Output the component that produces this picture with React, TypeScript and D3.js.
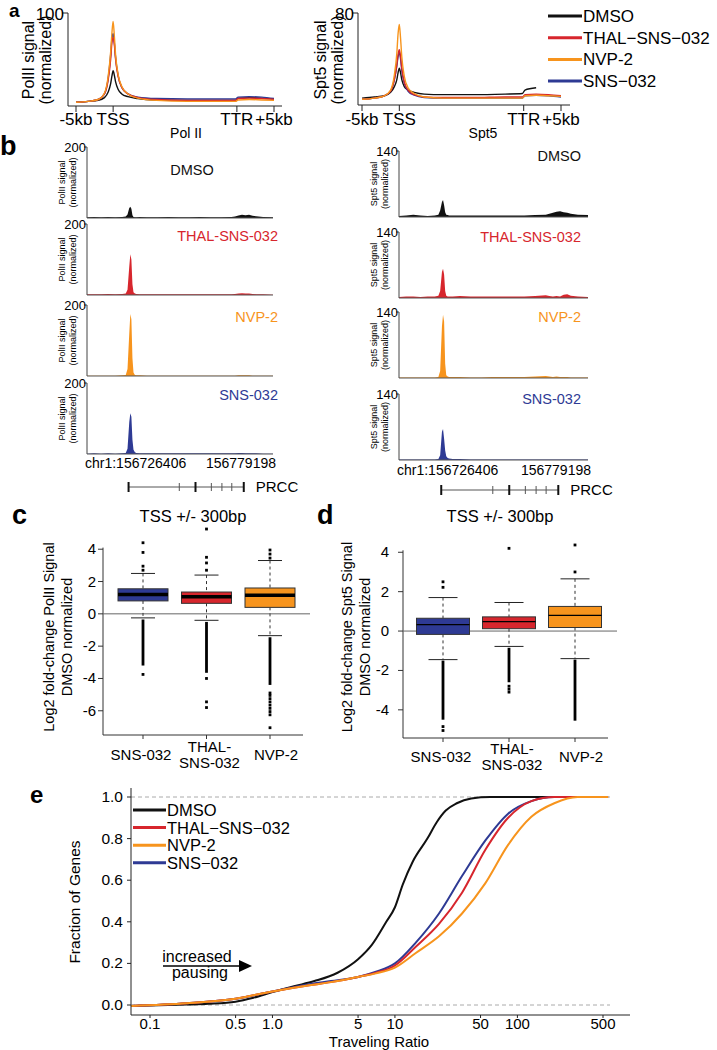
import React from 'react';
import * as d3 from 'd3';

const FONT = '"Liberation Sans", Arial, Helvetica, sans-serif';
const BLACK = '#111111';
const RED = '#d7262d';
const ORANGE = '#f7941d';
const BLUE = '#2e3a94';

// series shared by a, b and e
const legendNames = ['DMSO', 'THAL\u2212SNS\u2212032', 'NVP-2', 'SNS\u2212032'];
const trackNames = ['DMSO', 'THAL-SNS-032', 'NVP-2', 'SNS-032'];
const seriesColors = [BLACK, RED, ORANGE, BLUE];

// ---- a: metagene profiles (bins: 0 = -5kb, 30 = TSS, 130 = TTR, 160 = +5kb)
const metaBins = [0, 10, 18, 23, 26, 28, 29, 30, 31, 32, 34, 37, 42, 50, 65, 90, 115, 129, 131, 140, 150, 160];
const metaTickBins = [0, 30, 130, 160];
const metaTickLabels = ['-5kb', 'TSS', 'TTR', '+5kb'];

const polDmso = [4, 5, 6, 9, 15, 24, 32, 38, 33, 26, 18, 13, 10, 8, 6.5, 6, 6, 6, 8.5, 9, 8.5, 7.5];
const polThal = [4, 5, 7, 13, 28, 50, 68, 74, 66, 50, 32, 20, 13, 9, 7, 6, 6, 6, 8, 8.5, 8, 7];
const polNvp = [4, 5, 7, 14, 32, 58, 78, 91, 75, 55, 34, 21, 13, 8.5, 6, 5, 5, 5, 6.5, 7, 6.5, 6];
const polSns = [4, 5, 7, 13, 30, 55, 72, 78, 68, 52, 33, 20, 13, 9.5, 8, 7.5, 7.5, 7.5, 9.5, 10, 9.5, 8];

const sptDmso = [6, 7, 8, 11, 16, 22, 28, 32, 28, 22, 16, 13, 11, 9.5, 9, 9, 9.5, 10, 13, 15, null, null];
const sptThal = [5, 6, 8, 12, 22, 35, 44, 48, 42, 32, 20, 13, 9, 7, 6.5, 6.5, 7, 7, 9, 9.5, 9, 8];
const sptNvp = [5, 6, 8, 13, 26, 45, 62, 70, 58, 42, 25, 15, 10, 7, 6, 6, 6, 6, 8, 8.5, 8, 7.5];
const sptSns = [5, 6, 8, 12, 22, 34, 42, 46, 40, 30, 19, 12, 8.5, 6.5, 6, 6, 6, 6, 8, 8.5, 8, 7];

// ---- b: genome browser tracks (kb from chr1:156726406)
const trackKb = [0, 2, 4, 6, 8, 10, 11, 11.5, 12, 12.3, 12.6, 12.9, 13.2, 13.6, 14, 15, 17, 20, 23, 26, 29, 32, 35, 38, 41, 42, 43, 44, 45, 46, 47, 48, 50, 52.8];

const polTrackDmso = [2, 3, 2, 3, 2, 3, 4, 10, 28, 32, 26, 8, 3, 2, 2, 3, 2, 2, 3, 2, 2, 3, 2, 2, 3, 4, 7, 9, 8, 9, 6, 5, 3, 2];
const polTrackThal = [2, 2, 2, 3, 2, 3, 4, 15, 80, 115, 100, 30, 8, 4, 3, 2, 2, 2, 2, 2, 2, 2, 2, 2, 2, 3, 4, 5, 4, 4, 3, 2, 2, 1];
const polTrackNvp = [1, 1, 1, 1, 1, 2, 3, 20, 120, 175, 160, 50, 10, 3, 2, 2, 1, 1, 1, 1, 1, 1, 1, 1, 1, 1, 2, 2, 2, 2, 1, 1, 1, 1];
const polTrackSns = [1, 2, 1, 2, 1, 2, 3, 15, 90, 115, 105, 40, 12, 5, 3, 2, 2, 2, 2, 2, 2, 2, 2, 2, 2, 2, 3, 3, 2, 2, 2, 2, 1, 1];

const sptTrackDmso = [2, 3, 5, 3, 2, 3, 5, 14, 32, 36, 25, 10, 5, 4, 3, 3, 3, 3, 3, 3, 3, 3, 3, 4, 5, 7, 9, 11, 12, 10, 9, 7, 5, 4];
const sptTrackThal = [2, 3, 3, 2, 3, 3, 5, 15, 55, 62, 50, 15, 5, 3, 3, 3, 4, 3, 3, 3, 3, 3, 3, 4, 6, 4, 3, 4, 3, 7, 8, 5, 3, 2];
const sptTrackNvp = [1, 1, 1, 1, 1, 1, 2, 15, 110, 134, 120, 30, 6, 3, 2, 2, 2, 1, 1, 2, 2, 2, 2, 3, 4, 3, 2, 3, 2, 2, 2, 1, 1, 1];
const sptTrackSns = [1, 1, 1, 1, 1, 1, 2, 10, 60, 66, 45, 20, 8, 4, 3, 2, 2, 1, 1, 1, 1, 1, 1, 1, 1, 1, 1, 1, 1, 1, 1, 1, 1, 1];

const exonKb = [11.8, 26.2, 30.8, 35.3, 38.3, 41.1, 44.5];
const exonThick = [true, false, true, false, false, false, true];

// ---- c / d: boxplots
const boxNames = ['SNS-032', 'THAL-SNS-032', 'NVP-2'];
const boxColors = [BLUE, RED, ORANGE];
const boxTicks = [4, 2, 0, -2, -4, -6];

const polBox = [
  { q1: 0.8, med: 1.2, q3: 1.55, lo: -0.25, hi: 2.5 },
  { q1: 0.65, med: 1.05, q3: 1.35, lo: -0.4, hi: 2.4 },
  { q1: 0.4, med: 1.15, q3: 1.6, lo: -1.35, hi: 3.3 },
];
const polOutliers = [
  [4.4, 3.8, 2.95, 2.7, -3.75],
  [5.25, 3.5, 3.15, 2.7, -4.0, -5.45, -5.8],
  [3.95, 3.7, 3.45, -4.9, -5.05, -5.25, -5.45, -5.65, -5.85, -6.05, -6.25, -7.05],
];
const polRuns = [[[-0.35, -3.2]], [[-0.5, -3.65]], [[-1.45, -4.4]]];

const sptBox = [
  { q1: -0.17, med: 0.33, q3: 0.65, lo: -1.45, hi: 1.7 },
  { q1: 0.12, med: 0.48, q3: 0.72, lo: -0.78, hi: 1.45 },
  { q1: 0.18, med: 0.8, q3: 1.25, lo: -1.4, hi: 2.65 },
];
const sptOutliers = [
  [2.5, 2.22, -4.85, -5.05],
  [4.2, -2.8, -2.95, -3.1],
  [4.37, 3.0],
];
const sptRuns = [[[-1.5, -4.5]], [[1.6, 3.0], [-0.85, -2.6]], [[-1.45, -4.55]]];

// ---- e: cumulative distribution of traveling ratio
const cdfDmso = [[0.07, -0.005], [0.2, 0.002], [0.3, 0.006], [0.5, 0.016], [0.7, 0.035], [1, 0.062], [1.5, 0.09], [2.2, 0.115], [3.4, 0.155], [5, 0.22], [6.5, 0.29], [8.5, 0.4], [10, 0.47], [11.6, 0.58], [14, 0.69], [18.4, 0.8], [22, 0.88], [26, 0.935], [32, 0.97], [42, 0.993], [60, 1], [550, 1]];
const cdfThal = [[0.07, -0.005], [0.2, 0.008], [0.5, 0.03], [1, 0.065], [2, 0.095], [3, 0.11], [5, 0.135], [7, 0.155], [10, 0.19], [14.8, 0.28], [22.9, 0.39], [35.3, 0.54], [54.6, 0.745], [84, 0.9], [130, 0.98], [200, 1], [550, 1]];
const cdfNvp = [[0.07, -0.005], [0.2, 0.008], [0.5, 0.03], [1, 0.065], [2, 0.095], [3, 0.11], [5, 0.135], [7, 0.152], [10, 0.18], [14.8, 0.25], [22.9, 0.33], [35.3, 0.44], [54.6, 0.585], [84, 0.77], [130, 0.905], [200, 0.97], [310, 1], [550, 1]];
const cdfSns = [[0.07, -0.005], [0.2, 0.008], [0.5, 0.03], [1, 0.065], [2, 0.1], [3, 0.115], [5, 0.135], [7, 0.16], [10, 0.2], [14.8, 0.3], [22.9, 0.44], [35.3, 0.62], [54.6, 0.79], [84, 0.92], [130, 0.98], [200, 1], [550, 1]];
const cdfTicks = [0.1, 0.5, 1, 5, 10, 50, 100, 500];
const cdfTickLabels = ['0.1', '0.5', '1.0', '5', '10', '50', '100', '500'];
const fracTicks = [0, 0.2, 0.4, 0.6, 0.8, 1];

const AX = '#222';

function MetaPanel({ xr, axisX, yr, yMax, data, title, titleX, yLabel, yLabelX }: any) {
  const x = d3.scaleLinear().domain([0, 160]).range(xr);
  const y = d3.scaleLinear().domain([0, yMax]).range(yr);
  const line = d3
    .line<[number, number | null]>()
    .defined((d) => d[1] != null)
    .x((d) => x(d[0]))
    .y((d) => y(d[1] as number))
    .curve(d3.curveMonotoneX);
  const order = [0, 3, 1, 2];
  return (
    <g>
      {order.map((i) => (
        <path key={i} d={line(metaBins.map((b, j) => [b, data[i][j]]))!} fill="none" stroke={seriesColors[i]} strokeWidth={1.4} />
      ))}
      <line x1={axisX[0]} x2={axisX[0]} y1={yr[1]} y2={yr[0]} stroke={AX} />
      <line x1={axisX[0]} x2={axisX[1]} y1={yr[0]} y2={yr[0]} stroke={AX} />
      <line x1={axisX[0] - 6} x2={axisX[0]} y1={yr[1]} y2={yr[1]} stroke={AX} />
      <text x={axisX[0] - 4} y={yr[1] + 7} textAnchor="end" fontSize={17}>{yMax}</text>
      {metaTickBins.map((t, i) => (
        <g key={t}>
          <line x1={x(t)} x2={x(t)} y1={yr[0]} y2={yr[0] + 6} stroke={AX} />
          <text x={x(t)} y={125} textAnchor="middle" fontSize={17}>{metaTickLabels[i]}</text>
        </g>
      ))}
      <text x={titleX} y={138} textAnchor="middle" fontSize={14}>{title}</text>
      <text transform={`translate(${yLabelX},60) rotate(-90)`} textAnchor="middle" fontSize={16}>{yLabel}</text>
      <text transform={`translate(${yLabelX + 17},60) rotate(-90)`} textAnchor="middle" fontSize={16}>(normalized)</text>
    </g>
  );
}

function TrackPanel({ xr, tops, h, yMax, data, yLabel, right, chrY, geneY }: any) {
  const x = d3.scaleLinear().domain([0, 52.8]).range(xr);
  return (
    <g>
      {data.map((vals: number[], i: number) => {
        const top = tops[i];
        const y = d3.scaleLinear().domain([0, yMax]).range([top + h, top]);
        const area = d3
          .area<number>()
          .x((_, j) => x(trackKb[j]))
          .y0(top + h)
          .y1((d) => y(d));
        const lx = xr[0] - 22;
        return (
          <g key={i}>
            <path d={area(vals)!} fill={seriesColors[i]} />
            <line x1={xr[0]} x2={xr[0]} y1={top} y2={top + h} stroke="#444" />
            <line x1={xr[0] - 3} x2={xr[0]} y1={top} y2={top} stroke="#444" />
            <line x1={xr[0]} x2={xr[1]} y1={top + h} y2={top + h} stroke="#555" strokeWidth={1.2} />
            <text x={xr[0] - 1} y={top + 5} textAnchor="end" fontSize={13}>{yMax}</text>
            <text transform={`translate(${lx},${top + h / 2}) rotate(-90)`} textAnchor="middle" fontSize={9}>{yLabel}</text>
            <text transform={`translate(${lx + 11},${top + h / 2}) rotate(-90)`} textAnchor="middle" fontSize={9}>(normalized)</text>
            {right || i > 0 ? (
              <text x={xr[1] + (right ? -7 : 5)} y={top + (right ? 10 : 17)} textAnchor="end" fontSize={14.5} fill={seriesColors[i]}>{trackNames[i]}</text>
            ) : (
              <text x={(xr[0] + xr[1]) / 2 + 12} y={top + 28} textAnchor="middle" fontSize={14.5} fill={seriesColors[i]}>{trackNames[i]}</text>
            )}
          </g>
        );
      })}
      <text x={xr[0] - 2} y={chrY} fontSize={14}>chr1:156726406</text>
      <text x={xr[1] + 3} y={chrY} textAnchor="end" fontSize={14}>156779198</text>
      <line x1={x(exonKb[0])} x2={x(exonKb[exonKb.length - 1])} y1={geneY} y2={geneY} stroke="#555" />
      {exonKb.map((k, i) => (
        <line key={i} x1={x(k)} x2={x(k)} y1={geneY - (exonThick[i] ? 5 : 4)} y2={geneY + (exonThick[i] ? 5 : 4)} stroke={exonThick[i] ? '#111' : '#555'} strokeWidth={exonThick[i] ? 2 : 1} />
      ))}
      <text x={x(exonKb[exonKb.length - 1]) + 12} y={geneY + 5} fontSize={15}>PRCC</text>
    </g>
  );
}

function BoxPanel({ stats, outliers, runs, centers, y0, y1, dom, axisX, boxW, capW, thick, tickLabelX, title, titleX, letter, letterX, yLabel, yLabelX, zeroEnd, labelY }: any) {
  const x = d3.scalePoint<string>().domain(boxNames).range(centers);
  const y = d3.scaleLinear().domain(dom).range([y0, y1]);
  const top = y(4.1);
  return (
    <g>
      <text x={letterX} y={524} fontSize={27} fontWeight="bold">{letter}</text>
      <text x={titleX} y={522} textAnchor="middle" fontSize={16.5}>{title}</text>
      <line x1={axisX[0]} x2={axisX[0]} y1={top} y2={y0} stroke="#333" />
      <line x1={axisX[0]} x2={axisX[1]} y1={y0} y2={y0} stroke="#333" />
      <line x1={axisX[0]} x2={zeroEnd} y1={y(0)} y2={y(0)} stroke="#666" />
      {boxTicks.filter((t) => t >= dom[0]).map((t) => (
        <g key={t}>
          <line x1={axisX[0] - 5} x2={axisX[0]} y1={y(t)} y2={y(t)} stroke="#333" />
          <text x={tickLabelX} y={y(t) + 5} textAnchor="end" fontSize={15}>{t}</text>
        </g>
      ))}
      {boxNames.map((n, i) => {
        const s = stats[i];
        const cx = x(n)!;
        return (
          <g key={n}>
            <line x1={cx} x2={cx} y1={y0} y2={y0 + 4} stroke="#333" />
            <line x1={cx} x2={cx} y1={y(s.hi)} y2={y(s.q3)} stroke="#333" strokeDasharray="3,3" />
            <line x1={cx} x2={cx} y1={y(s.q1)} y2={y(s.lo)} stroke="#333" strokeDasharray="3,3" />
            <line x1={cx - capW / 2} x2={cx + capW / 2} y1={y(s.hi)} y2={y(s.hi)} stroke="#222" />
            <line x1={cx - capW / 2} x2={cx + capW / 2} y1={y(s.lo)} y2={y(s.lo)} stroke="#222" />
            <rect x={cx - boxW / 2} y={y(s.q3)} width={boxW} height={y(s.q1) - y(s.q3)} fill={boxColors[i]} stroke="#333" strokeWidth={1} />
            <line x1={cx - boxW / 2} x2={cx + boxW / 2} y1={y(s.med)} y2={y(s.med)} stroke="#000" strokeWidth={thick ? 3.5 : 1.2} />
            {runs[i].map((r: number[], k: number) => (
              <rect key={k} x={cx - 1.4} y={y(r[0])} width={2.8} height={y(r[1]) - y(r[0])} fill="#000" />
            ))}
            {outliers[i].map((v: number, k: number) => (
              <rect key={'o' + k} x={cx - 1.4} y={y(v) - 1.4} width={2.8} height={2.8} fill="#000" />
            ))}
            {i === 1 ? (
              <>
                <text x={cx + 3} y={labelY - 8} textAnchor="middle" fontSize={15}>THAL-</text>
                <text x={cx + 3} y={labelY + 8} textAnchor="middle" fontSize={15}>SNS-032</text>
              </>
            ) : (
              <text x={cx + (i === 0 ? -2 : 6)} y={labelY} textAnchor="middle" fontSize={15}>{n}</text>
            )}
          </g>
        );
      })}
      <text transform={`translate(${yLabelX},637) rotate(-90)`} textAnchor="middle" fontSize={14.5}>{yLabel}</text>
      <text transform={`translate(${yLabelX + 18},637) rotate(-90)`} textAnchor="middle" fontSize={14.5}>DMSO normalized</text>
    </g>
  );
}

function CdfPanel() {
  const x = d3.scaleLog().domain([0.1, 500]).range([150, 603]);
  const y = d3.scaleLinear().domain([0, 1]).range([1005, 797]);
  const line = d3
    .line<number[]>()
    .x((d) => x(d[0]))
    .y((d) => y(d[1]))
    .curve(d3.curveMonotoneX);
  const curves = [cdfDmso, cdfThal, cdfNvp, cdfSns];
  const order = [0, 3, 1, 2];
  return (
    <g>
      <text x={30} y={803} fontSize={24} fontWeight="bold">e</text>
      {[0, 1].map((v) => (
        <line key={v} x1={131} x2={610} y1={y(v)} y2={y(v)} stroke="#aaa" strokeDasharray="4,3" />
      ))}
      {order.map((i) => (
        <path key={i} d={line(curves[i])!} fill="none" stroke={seriesColors[i]} strokeWidth={2} />
      ))}
      <line x1={131} x2={131} y1={788} y2={1015} stroke={AX} />
      <line x1={131} x2={630} y1={1015} y2={1015} stroke={AX} />
      {fracTicks.map((t) => (
        <g key={t}>
          <line x1={127} x2={131} y1={y(t)} y2={y(t)} stroke={AX} />
          <text x={123} y={y(t) + 5} textAnchor="end" fontSize={15.5}>{t.toFixed(1)}</text>
        </g>
      ))}
      {cdfTicks.map((t, i) => (
        <g key={t}>
          <line x1={x(t)} x2={x(t)} y1={1015} y2={1018} stroke={AX} />
          <text x={x(t)} y={1029} textAnchor="middle" fontSize={15}>{cdfTickLabels[i]}</text>
        </g>
      ))}
      <text x={379} y={1046.5} textAnchor="middle" fontSize={15}>Traveling Ratio</text>
      <text transform="translate(80,902) rotate(-90)" textAnchor="middle" fontSize={15.5}>Fraction of Genes</text>
      {legendNames.map((n, i) => (
        <g key={n}>
          <line x1={133} x2={166} y1={810 + i * 17.6} y2={810 + i * 17.6} stroke={seriesColors[i]} strokeWidth={3} />
          <text x={167} y={816 + i * 17.6} fontSize={16.5}>{n}</text>
        </g>
      ))}
      <text x={197} y={962} textAnchor="middle" fontSize={16}>increased</text>
      <text x={200} y={978} textAnchor="middle" fontSize={16}>pausing</text>
      <line x1={163} x2={240} y1={966} y2={966} stroke="#000" strokeWidth={1.5} />
      <path d="M239,960 L252,966 L239,972 Z" fill="#000" />
    </g>
  );
}

export default function App() {
  return (
    <svg width={717} height={1050} style={{ position: 'absolute', left: 0, top: 0, background: '#fff' }} fontFamily={FONT}>
      <rect width={717} height={1050} fill="#fff" />
      {/* a */}
      <text x={9} y={17} fontSize={19} fontWeight="bold">a</text>
      <MetaPanel
        xr={[76, 274]}
        axisX={[68, 282]}
        yr={[106, 13]}
        yMax={100}
        data={[polDmso, polThal, polNvp, polSns]}
        title="Pol II"
        titleX={186}
        yLabel="PolII signal"
        yLabelX={34}
      />
      <MetaPanel
        xr={[362, 561]}
        axisX={[358, 570]}
        yr={[105, 13]}
        yMax={80}
        data={[sptDmso, sptThal, sptNvp, sptSns]}
        title="Spt5"
        titleX={483}
        yLabel="Spt5 signal"
        yLabelX={326}
      />
      {legendNames.map((n, i) => (
        <g key={n}>
          <line x1={548} x2={582} y1={16 + i * 21.7} y2={16 + i * 21.7} stroke={seriesColors[i]} strokeWidth={3} />
          <text x={583} y={22 + i * 21.7} fontSize={17}>{n}</text>
        </g>
      ))}
      {/* b */}
      <text x={0} y={155} fontSize={27} fontWeight="bold">b</text>
      <TrackPanel
        xr={[87, 273]}
        tops={[147, 224, 305, 383]}
        h={71}
        yMax={200}
        data={[polTrackDmso, polTrackThal, polTrackNvp, polTrackSns]}
        yLabel="PolII signal"
        right={false}
        chrY={468}
        geneY={487}
      />
      <TrackPanel
        xr={[399, 588]}
        tops={[151, 232, 312, 394]}
        h={66}
        yMax={140}
        data={[sptTrackDmso, sptTrackThal, sptTrackNvp, sptTrackSns]}
        yLabel="Spt5 signal"
        right={true}
        chrY={475}
        geneY={490}
      />
      {/* c */}
      <BoxPanel
        stats={polBox}
        outliers={polOutliers}
        runs={polRuns}
        centers={[143, 270]}
        y0={735}
        y1={547.6}
        dom={[-7.5, 4.1]}
        axisX={[103, 303]}
        boxW={50}
        capW={24}
        thick={true}
        tickLabelX={96}
        title="TSS +/- 300bp"
        titleX={193}
        letter="c"
        letterX={12}
        yLabel="Log2 fold-change PolII Signal"
        yLabelX={54}
        zeroEnd={310}
        labelY={760}
      />
      {/* d */}
      <BoxPanel
        stats={sptBox}
        outliers={sptOutliers}
        runs={sptRuns}
        centers={[443, 575]}
        y0={738}
        y1={550.3}
        dom={[-5.43, 4.1]}
        axisX={[403, 608]}
        boxW={53}
        capW={29}
        thick={false}
        tickLabelX={389}
        title="TSS +/- 300bp"
        titleX={500}
        letter="d"
        letterX={317}
        yLabel="Log2 fold-change Spt5 Signal"
        yLabelX={352}
        zeroEnd={617}
        labelY={762}
      />
      <CdfPanel />
    </svg>
  );
}
